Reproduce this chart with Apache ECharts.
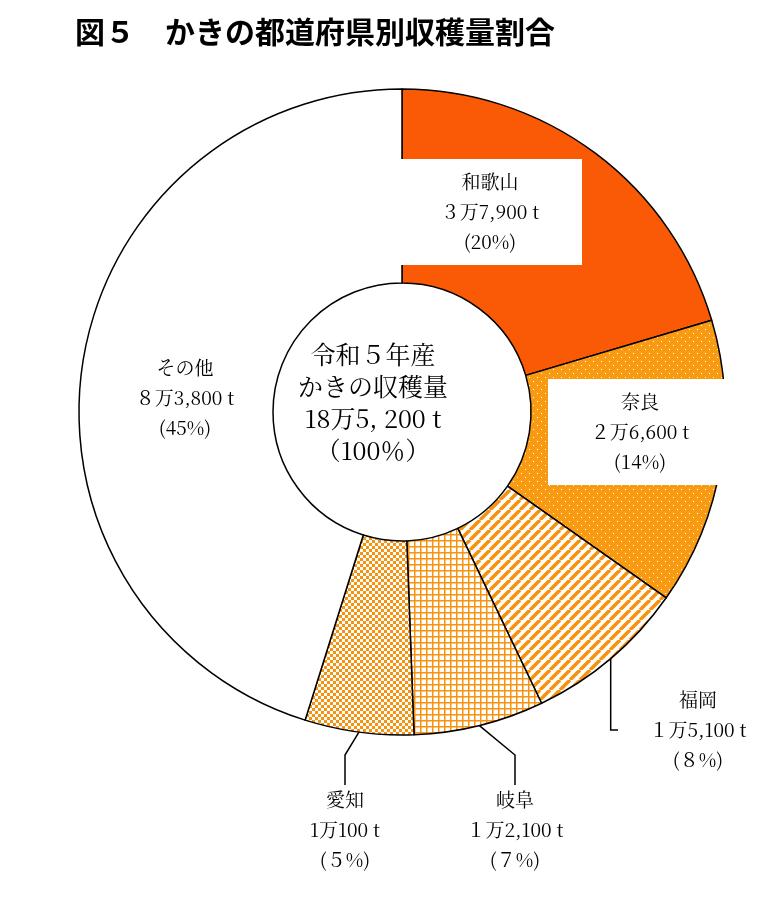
<!DOCTYPE html>
<html><head><meta charset="utf-8">
<script src="https://cdn.jsdelivr.net/npm/echarts@6/dist/echarts.min.js"></script>
<style>html,body{margin:0;padding:0;background:#fff}#c{width:764px;height:899px}</style>
</head><body><div id="c"></div>
<script>
const names = ['和歌山','奈良','福岡','岐阜','愛知','その他'];
const values = [37900, 26600, 15100, 12100, 10100, 83800];
const amountLabels = ['３万7,900 t','２万6,600 t','１万5,100 t','１万2,100 t','1万100 t','８万3,800 t'];
const pctLabels = ['(20%)','(14%)','(８%)','(７%)','(５%)','(45%)'];

function pat(kind){
  const c=document.createElement('canvas');const o='#f7920f';
  const x=c.getContext('2d');
  if(kind==='dots'){c.width=c.height=8;x.fillStyle='#f99b12';x.fillRect(0,0,8,8);x.fillStyle='#fff';x.fillRect(1,1,1,1);x.fillRect(5,5,1,1);}
  if(kind==='stripe'){c.width=c.height=10;x.fillStyle='#fff';x.fillRect(0,0,10,10);x.strokeStyle=o;x.lineWidth=3.5;
    for(let k=-10;k<=20;k+=10){x.beginPath();x.moveTo(k,10);x.lineTo(k+10,0);x.stroke();}}
  if(kind==='grid'){c.width=c.height=6;x.fillStyle='#fff';x.fillRect(0,0,6,6);x.fillStyle=o;x.fillRect(0,0,6,1.5);x.fillRect(0,0,1.5,6);}
  if(kind==='check'){c.width=c.height=6;x.fillStyle='#fff';x.fillRect(0,0,6,6);x.fillStyle=o;x.fillRect(0,0,3,3);x.fillRect(3,3,3,3);}
  return {image:c,repeat:'repeat'};
}
const fills=['#fa5a05',pat('dots'),pat('stripe'),pat('grid'),pat('check'),'#ffffff'];
const labelPos=[[490,212],[640,432],[698,730],[515,830],[345,830],[185,398]];
const boxed=[true,true,false,false,false,false];
const font='"Noto Serif CJK JP","Noto Sans CJK JP",serif';

const chart=echarts.init(document.getElementById('c'));
chart.setOption({
  animation:false,
  title:{text:'図５　かきの都道府県別収穫量割合',left:70,top:12,textStyle:{fontFamily:'"Noto Sans CJK JP"',fontSize:30,fontWeight:'bold',color:'#000'}},
  graphic:[{type:'text',left:298,top:338,style:{text:'令和５年産\nかきの収穫量\n18万5, 200 t\n（100％）',textAlign:'center',fontFamily:font,fontSize:25,lineHeight:32,fill:'#000'}}],
  series:[{
    type:'pie',center:[402,412],radius:[129,323],startAngle:90,clockwise:true,
    itemStyle:{borderColor:'#000',borderWidth:1.5},
    data:names.map((n,i)=>({name:n,value:values[i],itemStyle:{color:fills[i]},
      label:{position:boxed[i]||i===5?'inside':'outside',
        backgroundColor:boxed[i]?'#fff':'transparent',padding:boxed[i]?[8,12]:0},
      labelLine:{show:!(boxed[i]||i===5),lineStyle:{color:'#000',width:1.5}}})),
    label:{formatter:p=>names[p.dataIndex]+'\n'+amountLabels[p.dataIndex]+'\n'+pctLabels[p.dataIndex],
      fontFamily:font,fontSize:19,lineHeight:30,color:'#000',align:'center',overflow:'none',width:160},
    labelLayout:p=>({x:labelPos[p.dataIndex][0],y:labelPos[p.dataIndex][1],align:'center',verticalAlign:'middle'}),
    emphasis:{disabled:true}
  }]
});
</script></body></html>
